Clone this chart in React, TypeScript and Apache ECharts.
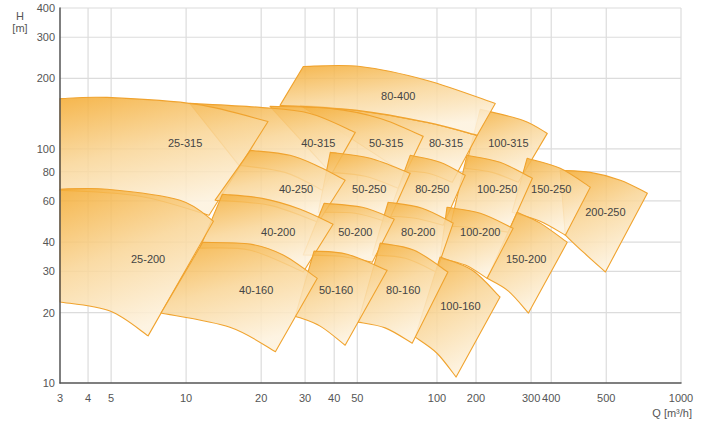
import React, { useEffect, useRef } from "react";
import * as echarts from "echarts";

// Gridline positions (as drawn in the reference) and their tick labels
const xGridAt = [3, 3.9, 4.84, 9.76, 19.7, 29.7, 39.0, 48.4, 102, 147, 246, 297, 497, 1000];
const xGridLabels = ["3", "4", "5", "10", "20", "30", "40", "50", "100", "200", "300", "400", "500", "1000"];
const yGridAt = [10, 20, 30, 40, 60, 80, 100, 200, 300, 400];
const yGridLabels = ["10", "20", "30", "40", "60", "80", "100", "200", "300", "400"];

// Pump families, in drawing order (Q [m3/h], H [m])
const pumpNames = [
  "100-315", "80-315", "50-315", "40-315", "25-315", "80-400",
  "200-250", "150-250", "100-250", "80-250", "50-250", "40-250",
  "150-200", "100-200", "80-200", "50-200", "40-200", "25-200",
  "100-160", "80-160", "50-160", "40-160",
];

const pumpTopEdge = [
  [[152.9, 147.6], [228.7, 132.4], [286.3, 116.5]],
  [[28.4, 153.5], [48.4, 146.1], [93.1, 129.8], [148.7, 114.3]],
  [[21.4, 152], [37.6, 149], [60.0, 135], [89.7, 113.2]],
  [[10.1, 156.5], [19.5, 150.5], [31.1, 141.8], [47.5, 117.7]],
  [[3, 164], [4.66, 166], [10.8, 155], [21.0, 131]],
  [[29.2, 225], [49.7, 225], [93.1, 196.2], [176, 156.5]],
  [[323, 81.0], [428, 79.4], [567, 73.5], [730, 64.7]],
  [[237, 91.2], [323, 82.6], [428, 68.6]],
  [[135, 93.9], [184, 87.7], [249, 74.9]],
  [[79.4, 93.9], [105, 87.7], [132.9, 77.1]],
  [[37.6, 96.7], [54.6, 91.2], [79.4, 78.7]],
  [[17.8, 98.6], [25.8, 93.9], [34.2, 83.5], [43.2, 73.5]],
  [[216, 53.6], [268, 48.2], [345, 39.9]],
  [[112, 56.3], [153, 53.1], [208, 45.8]],
  [[64.6, 59.2], [88.8, 55.8], [118.7, 48.2]],
  [[35.5, 58.6], [50.7, 56.3], [68.4, 50.1]],
  [[13.7, 64.0], [19.9, 61.5], [28.4, 55.3], [38.6, 47.7]],
  [[3, 67.3], [4.66, 67.3], [9.22, 60.4], [12.6, 49.1]],
  [[105, 34.5], [142, 30.3], [184, 23.3]],
  [[60.0, 39.6], [82.4, 36.9], [113, 29.8]],
  [[32.3, 36.6], [44.0, 35.5], [64.0, 30.3]],
  [[11.4, 39.9], [17.8, 39.2], [24.2, 35.2], [33.3, 28.0]],
];

const pumpBottomEdge = [
  [[132.9, 82.6], [171.1, 79.4], [218.3, 72.0]],
  [[72.3, 81.0], [94.0, 78.7], [117.7, 72.0]],
  [[37.6, 79.4], [52.1, 76.4], [71.0, 67.9]],
  [[16.0, 85.1], [24.6, 79.4], [34.9, 66.6]],
  [[3, 66.6], [6.34, 62.8], [12.1, 52.1]],
  [[23.5, 153.5], [48.4, 146.1], [93.1, 129.8], [148.7, 114.3]],
  [[339, 42.8], [401, 36.2], [493, 29.8]],
  [[206, 53.6], [268, 49.1], [339, 42.8]],
  [[115.5, 46.8], [152.9, 45.8], [198.7, 44.1]],
  [[64.6, 51.6], [83.2, 50.6], [108.1, 47.2]],
  [[33.6, 53.6], [47.5, 53.1], [64.6, 48.6]],
  [[12.8, 60.4], [21.4, 57.4], [33.6, 48.6]],
  [[163, 28.0], [199, 24.7], [240, 19.9]],
  [[105, 34.1], [133, 31.9], [163, 28.0]],
  [[55.7, 35.2], [75.8, 34.1], [101.3, 29.8]],
  [[29.2, 35.2], [41.2, 34.8], [55.7, 32.8]],
  [[11.1, 37.7], [17.8, 36.9], [29.2, 29.8]],
  [[3, 22.2], [4.79, 20.3], [6.84, 15.9]],
  [[83.2, 15.7], [102, 13.4], [122, 10.6]],
  [[48.8, 18.2], [62.8, 17.2], [80.9, 14.8]],
  [[27.1, 19.3], [34.2, 17.5], [43.2, 14.5]],
  [[7.72, 19.9], [14.7, 17.3], [22.5, 13.6]],
];

const pumpLabelAt = [
  [199, 105.6], [111, 105.6], [63.4, 105.6], [33.6, 105.6], [9.67, 105.6], [71.0, 167.6],
  [493, 53.6], [297, 67.3], [179, 67.3], [97.6, 67.3], [54.1, 67.3], [27.3, 67.3],
  [235, 33.8], [152.9, 44.1], [85.6, 44.1], [47.5, 44.1], [23.1, 44.1], [6.84, 33.8],
  [127, 21.3], [74.4, 24.9], [39.7, 24.9], [18.8, 24.9],
];

const FONT = '11px "Liberation Sans", Arial, sans-serif';

function f(n: number) {
  return Math.round(n * 100) / 100;
}

// Catmull-Rom spline through pixel points, as cubic Bezier commands
function smoothThrough(pts: number[][]): string {
  let d = "";
  for (let i = 0; i < pts.length - 1; i++) {
    const p0 = pts[i - 1] || pts[i];
    const p1 = pts[i];
    const p2 = pts[i + 1];
    const p3 = pts[i + 2] || p2;
    const c1x = p1[0] + (p2[0] - p0[0]) / 6;
    const c1y = p1[1] + (p2[1] - p0[1]) / 6;
    const c2x = p2[0] - (p3[0] - p1[0]) / 6;
    const c2y = p2[1] - (p3[1] - p1[1]) / 6;
    d += ` C${f(c1x)} ${f(c1y)} ${f(c2x)} ${f(c2y)} ${f(p2[0])} ${f(p2[1])}`;
  }
  return d;
}

export default function App() {
  const ref = useRef<HTMLDivElement>(null);

  useEffect(() => {
    if (!ref.current) return;
    const chart = echarts.init(ref.current, undefined, { renderer: "svg" });

    const fill = () =>
      new echarts.graphic.LinearGradient(0, 0, 0.4, 1, [
        { offset: 0, color: "rgba(244,172,52,0.88)" },
        { offset: 0.5, color: "rgba(249,213,150,0.86)" },
        { offset: 1, color: "rgba(253,242,222,0.88)" },
      ]);

    const option: any = {
      animation: false,
      backgroundColor: "#ffffff",
      grid: { left: 60, right: 27, top: 8, bottom: 39, containLabel: false, outerBoundsMode: "none" },
      xAxis: {
        type: "log",
        logBase: 10,
        min: 3,
        max: 1000,
        z: 10,
        axisLine: { show: true, lineStyle: { color: "#555", width: 1.5 } },
        axisTick: { show: false },
        axisLabel: { show: false },
        splitLine: { show: false },
        minorSplitLine: { show: false },
      },
      yAxis: {
        type: "log",
        logBase: 10,
        min: 10,
        max: 400,
        z: 10,
        axisLine: { show: true, lineStyle: { color: "#555", width: 1.5 } },
        axisTick: { show: false },
        axisLabel: { show: false },
        splitLine: { show: false },
        minorSplitLine: { show: false },
      },
      graphic: [
        {
          type: "text",
          x: 20,
          y: 10,
          style: {
            text: "H\n[m]",
            font: FONT,
            fill: "#555",
            textAlign: "center",
            align: "center",
            lineHeight: 12,
          },
        },
        {
          type: "text",
          x: 692,
          y: 407,
          style: {
            text: "Q [m³/h]",
            font: FONT,
            fill: "#555",
            textAlign: "right",
            align: "right",
          },
        },
      ],
      series: [
        {
          type: "custom",
          name: "xGrid",
          z: 1,
          silent: true,
          data: xGridAt.map((v) => [v, 10]),
          renderItem: (params: any, api: any) => {
            const v = api.value(0);
            const p0 = api.coord([v, 10]);
            const p1 = api.coord([v, 400]);
            const children: any[] = [];
            if (params.dataIndex > 0) {
              children.push({
                type: "line",
                shape: { x1: p0[0], y1: p0[1], x2: p1[0], y2: p1[1] },
                style: { stroke: "#dcdcdc", lineWidth: 1.2 },
              });
            }
            children.push({
              type: "text",
              x: p0[0],
              y: p0[1] + 9,
              style: {
                text: xGridLabels[params.dataIndex],
                font: FONT,
                fill: "#555",
                textAlign: "center",
                align: "center",
                textVerticalAlign: "top",
                verticalAlign: "top",
              },
            });
            return { type: "group", children };
          },
        },
        {
          type: "custom",
          name: "yGrid",
          z: 1,
          silent: true,
          data: yGridAt.map((v) => [3, v]),
          renderItem: (params: any, api: any) => {
            const v = api.value(1);
            const p0 = api.coord([3, v]);
            const p1 = api.coord([1000, v]);
            const children: any[] = [];
            if (params.dataIndex > 0) {
              children.push({
                type: "line",
                shape: { x1: p0[0], y1: p0[1], x2: p1[0], y2: p1[1] },
                style: { stroke: "#dcdcdc", lineWidth: 1.2 },
              });
            }
            children.push({
              type: "text",
              x: p0[0] - 5,
              y: p0[1],
              style: {
                text: yGridLabels[params.dataIndex],
                font: FONT,
                fill: "#555",
                textAlign: "right",
                align: "right",
                textVerticalAlign: "middle",
                verticalAlign: "middle",
              },
            });
            return { type: "group", children };
          },
        },
        {
          type: "custom",
          name: "pumps",
          z: 2,
          silent: true,
          data: pumpLabelAt,
          renderItem: (params: any, api: any) => {
            const i = params.dataIndex;
            const top = pumpTopEdge[i].map((p) => api.coord(p));
            const bottom = pumpBottomEdge[i].map((p) => api.coord(p)).reverse();
            const d =
              `M${f(top[0][0])} ${f(top[0][1])}` +
              smoothThrough(top) +
              ` L${f(bottom[0][0])} ${f(bottom[0][1])}` +
              smoothThrough(bottom) +
              " Z";
            return {
              type: "path",
              shape: { pathData: d },
              style: {
                fill: fill(),
                stroke: "#f0a32e",
                lineWidth: 1.1,
                lineJoin: "round",
              },
            };
          },
        },
        {
          type: "custom",
          name: "pumpLabels",
          z: 3,
          silent: true,
          data: pumpLabelAt,
          renderItem: (params: any, api: any) => {
            const p = api.coord([api.value(0), api.value(1)]);
            return {
              type: "text",
              x: p[0],
              y: p[1],
              style: {
                text: pumpNames[params.dataIndex],
                font: FONT,
                fill: "#444",
                textAlign: "center",
                align: "center",
                textVerticalAlign: "middle",
                verticalAlign: "middle",
              },
            };
          },
        },
      ],
    };

    chart.setOption(option);
    return () => chart.dispose();
  }, []);

  return (
    <div
      ref={ref}
      style={{ position: "absolute", left: 0, top: 0, width: 708, height: 422, background: "#fff" }}
    />
  );
}
